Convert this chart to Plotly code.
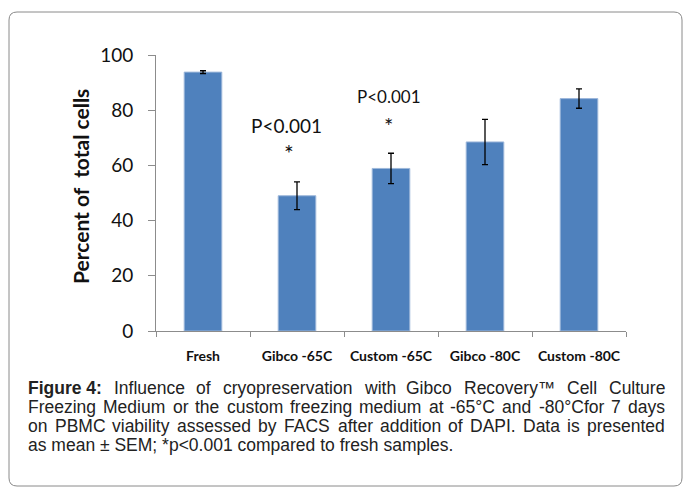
import plotly.graph_objects as go

categories = ["Fresh", "Gibco -65C", "Custom -65C", "Gibco -80C", "Custom -80C"]
values = [93.8, 49.0, 58.9, 68.5, 84.2]
errors = [0.5, 5.0, 5.5, 8.2, 3.5]
y_ticks = [0, 20, 40, 60, 80, 100]

W, H = 683, 488
L, R, T, B = 156, 57, 55, 157
PW, PH = W - L - R, H - T - B

def px2x(px):
    return (px - L) / PW

def py2y(py):
    return (H - B - py) / PH

# Arial / Liberation Sans advance widths (1/1000 em) used to justify the caption lines
AW = {" ": 278, "a": 556, "b": 556, "c": 500, "d": 556, "e": 556, "f": 278, "g": 556, "h": 556,
      "i": 222, "j": 222, "k": 500, "l": 222, "m": 833, "n": 556, "o": 556, "p": 556, "q": 556,
      "r": 333, "s": 500, "t": 278, "u": 556, "v": 500, "w": 722, "x": 500, "y": 500, "z": 500,
      "A": 667, "B": 667, "C": 722, "D": 722, "E": 667, "F": 611, "G": 778, "H": 722, "I": 278,
      "M": 833, "P": 667, "R": 722, "S": 667, "T": 611, "-": 333, ".": 278, ":": 278, "°": 400,
      "0": 556, "4": 556, "5": 556, "6": 556, "7": 556, "8": 556, "™": 1000}
ABW = {"F": 611, "i": 278, "g": 611, "u": 611, "r": 389, "e": 556, " ": 278, "4": 556, ":": 333}

CAP_SIZE = 17.5
CAP_FAMILY = "Liberation Sans, Arial"
CAP_LEFT, CAP_RIGHT = 28, 665

def wwidth(word, bold=False):
    tab = ABW if bold else AW
    return sum(tab.get(ch, 556) for ch in word) / 1000 * CAP_SIZE

cap_line1 = [("<b>Figure 4:</b>", "Figure 4:", True), ("Influence", "Influence", False),
             ("of", "of", False), ("cryopreservation", "cryopreservation", False),
             ("with", "with", False), ("Gibco", "Gibco", False),
             ("Recovery™", "Recovery™", False), ("Cell", "Cell", False),
             ("Culture", "Culture", False)]
cap_line2 = "Freezing Medium or the custom freezing medium at -65°C and -80°Cfor 7 days"
cap_line3 = "on PBMC viability assessed by FACS after addition of DAPI. Data is presented"
cap_line4 = "as mean ± SEM; *p<0.001 compared to fresh samples."
cap_y = [388, 407, 426, 445]

fig = go.Figure()
fig.add_trace(go.Bar(
    x=categories, y=values, width=0.4,
    marker=dict(color="#4F81BD", line=dict(color="#9DB7DA", width=1)),
    error_y=dict(type="data", array=errors, visible=True, color="black",
                 thickness=1.3, width=3),
    showlegend=False,
))

annos = []
annos.append(dict(x="Gibco -65C", y=74.5, xref="x", yref="y", text="P<0.001",
                  showarrow=False, xshift=-11, font=dict(size=19, family="Lato", color="#111")))
annos.append(dict(x="Gibco -65C", y=64.5, xref="x", yref="y", text="*",
                  showarrow=False, xshift=-8, font=dict(size=23, family="Lato", color="#111")))
annos.append(dict(x="Custom -65C", y=84.8, xref="x", yref="y", text="P<0.001",
                  showarrow=False, xshift=-2, font=dict(size=17, family="Lato", color="#111")))
annos.append(dict(x="Custom -65C", y=74.5, xref="x", yref="y", text="*",
                  showarrow=False, xshift=-3, font=dict(size=22, family="Lato", color="#111")))
annos.append(dict(x=px2x(80), y=py2y(187), xref="paper", yref="paper",
                  xanchor="center", yanchor="middle",
                  text="<b>Percent of  total cells</b>", textangle=-90, showarrow=False,
                  font=dict(size=21, family="Lato", color="#111")))

cap_font = dict(size=CAP_SIZE, family=CAP_FAMILY, color="#222")

def justified(words, yy):
    widths = [wwidth(p, b) for (_, p, b) in words]
    gap = (CAP_RIGHT - CAP_LEFT - sum(widths)) / (len(words) - 1)
    x = CAP_LEFT
    for (t, _, _), w in zip(words, widths):
        annos.append(dict(x=px2x(x), y=py2y(yy), xref="paper", yref="paper", text=t,
                          showarrow=False, xanchor="left", yanchor="middle",
                          borderpad=0, borderwidth=0, font=cap_font))
        x += w + gap

justified(cap_line1, cap_y[0])
justified([(w, w, False) for w in cap_line2.split(" ")], cap_y[1])
justified([(w, w, False) for w in cap_line3.split(" ")], cap_y[2])
annos.append(dict(x=px2x(CAP_LEFT), y=py2y(cap_y[3]), xref="paper", yref="paper", text=cap_line4,
                  showarrow=False, xanchor="left", yanchor="middle",
                  borderpad=0, borderwidth=0, font=cap_font))

# rounded border
x0, y0, x1, y1, r = px2x(9), py2y(12), px2x(682), py2y(486), 8
rx, ry = r / PW, r / PH
path = (f"M {x0},{y0 - ry} Q {x0},{y0} {x0 + rx},{y0} L {x1 - rx},{y0} Q {x1},{y0} {x1},{y0 - ry} "
        f"L {x1},{y1 + ry} Q {x1},{y1} {x1 - rx},{y1} L {x0 + rx},{y1} Q {x0},{y1} {x0},{y1 + ry} Z")

fig.update_layout(
    width=W, height=H,
    margin=dict(l=L, r=R, t=T, b=B),
    paper_bgcolor="white", plot_bgcolor="white",
    annotations=annos,
    shapes=[dict(type="path", path=path, xref="paper", yref="paper",
                 line=dict(color="#8a8a8a", width=1), layer="below")],
    bargap=0.6,
)
fig.update_yaxes(range=[0, 100], tickvals=y_ticks, showgrid=False, zeroline=False,
                 showline=True, linecolor="#8c8c8c", linewidth=1,
                 ticks="outside", ticklen=7, tickcolor="#8c8c8c",
                 tickfont=dict(size=19, family="Lato", color="#111"), ticklabelstandoff=11)
fig.update_xaxes(showgrid=False, showline=True, linecolor="#8c8c8c", linewidth=1,
                 ticks="outside", ticklen=5, tickcolor="#8c8c8c", tickson="boundaries",
                 tickfont=dict(size=14, family="Lato", color="#111", weight="bold"),
                 ticklabelstandoff=12)
fig.write_html("out.html", config={"displayModeBar": False},
               post_script="document.body.style.margin='0';")
